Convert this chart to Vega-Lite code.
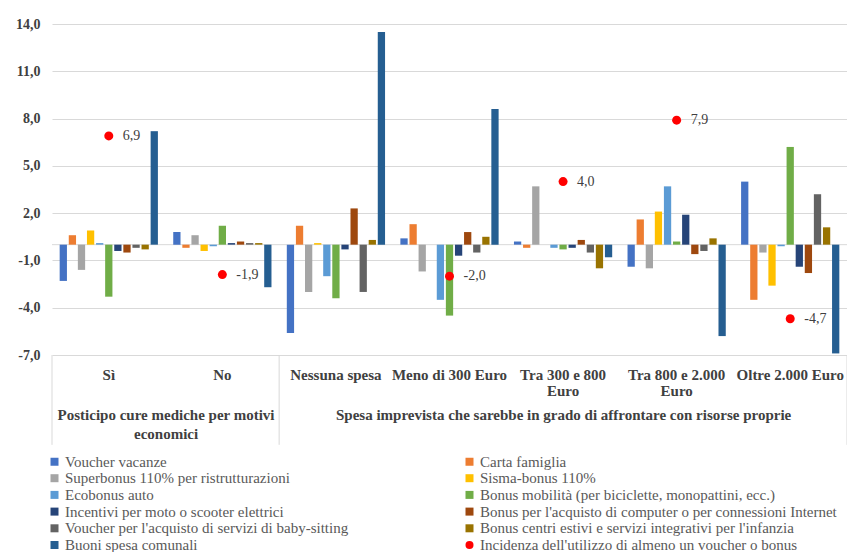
{
  "$schema": "https://vega.github.io/schema/vega-lite/v6.json",
  "width": 795,
  "height": 331,
  "autosize": {"type": "none"},
  "padding": {"left": 52, "top": 24, "right": 0, "bottom": 197},
  "background": "white",
  "config": {
    "locale": {
      "number": {"decimal": ",", "thousands": ".", "grouping": [3], "currency": ["€", ""], "minus": "-"}
    },
    "font": "Liberation Serif",
    "view": {"stroke": null},
    "axis": {"labelFont": "Liberation Serif"},
    "text": {"font": "Liberation Serif"},
    "legend": {
      "labelFont": "Liberation Serif",
      "padding": 0,
      "columns": 2,
      "columnPadding": 113,
      "rowPadding": 0.7,
      "labelFontSize": 15,
      "labelColor": "#595959",
      "labelLimit": 500,
      "labelOffset": 3,
      "symbolSize": 64,
      "symbolType": "square",
      "symbolStrokeWidth": 0,
      "symbolOpacity": 1
    }
  },
  "datasets": {
    "bars": [
      {"cat": "Sì", "series": "Voucher vacanze", "value": -2.3},
      {"cat": "Sì", "series": "Carta famiglia", "value": 0.6},
      {"cat": "Sì", "series": "Superbonus 110% per ristrutturazioni", "value": -1.6},
      {"cat": "Sì", "series": "Sisma-bonus 110%", "value": 0.9},
      {"cat": "Sì", "series": "Ecobonus auto", "value": 0.1},
      {"cat": "Sì", "series": "Bonus mobilità (per biciclette, monopattini, ecc.)", "value": -3.3},
      {"cat": "Sì", "series": "Incentivi per moto o scooter elettrici", "value": -0.4},
      {"cat": "Sì", "series": "Bonus per l'acquisto di computer o per connessioni Internet", "value": -0.5},
      {"cat": "Sì", "series": "Voucher per l'acquisto di servizi di baby-sitting", "value": -0.2},
      {"cat": "Sì", "series": "Bonus centri estivi e servizi integrativi per l'infanzia", "value": -0.3},
      {"cat": "Sì", "series": "Buoni spesa comunali", "value": 7.2},

      {"cat": "No", "series": "Voucher vacanze", "value": 0.8},
      {"cat": "No", "series": "Carta famiglia", "value": -0.2},
      {"cat": "No", "series": "Superbonus 110% per ristrutturazioni", "value": 0.6},
      {"cat": "No", "series": "Sisma-bonus 110%", "value": -0.4},
      {"cat": "No", "series": "Ecobonus auto", "value": -0.1},
      {"cat": "No", "series": "Bonus mobilità (per biciclette, monopattini, ecc.)", "value": 1.2},
      {"cat": "No", "series": "Incentivi per moto o scooter elettrici", "value": 0.1},
      {"cat": "No", "series": "Bonus per l'acquisto di computer o per connessioni Internet", "value": 0.2},
      {"cat": "No", "series": "Voucher per l'acquisto di servizi di baby-sitting", "value": 0.1},
      {"cat": "No", "series": "Bonus centri estivi e servizi integrativi per l'infanzia", "value": 0.1},
      {"cat": "No", "series": "Buoni spesa comunali", "value": -2.7},

      {"cat": "Nessuna spesa", "series": "Voucher vacanze", "value": -5.6},
      {"cat": "Nessuna spesa", "series": "Carta famiglia", "value": 1.2},
      {"cat": "Nessuna spesa", "series": "Superbonus 110% per ristrutturazioni", "value": -3.0},
      {"cat": "Nessuna spesa", "series": "Sisma-bonus 110%", "value": 0.1},
      {"cat": "Nessuna spesa", "series": "Ecobonus auto", "value": -2.0},
      {"cat": "Nessuna spesa", "series": "Bonus mobilità (per biciclette, monopattini, ecc.)", "value": -3.4},
      {"cat": "Nessuna spesa", "series": "Incentivi per moto o scooter elettrici", "value": -0.3},
      {"cat": "Nessuna spesa", "series": "Bonus per l'acquisto di computer o per connessioni Internet", "value": 2.3},
      {"cat": "Nessuna spesa", "series": "Voucher per l'acquisto di servizi di baby-sitting", "value": -3.0},
      {"cat": "Nessuna spesa", "series": "Bonus centri estivi e servizi integrativi per l'infanzia", "value": 0.3},
      {"cat": "Nessuna spesa", "series": "Buoni spesa comunali", "value": 13.5},

      {"cat": "Meno di 300 Euro", "series": "Voucher vacanze", "value": 0.4},
      {"cat": "Meno di 300 Euro", "series": "Carta famiglia", "value": 1.3},
      {"cat": "Meno di 300 Euro", "series": "Superbonus 110% per ristrutturazioni", "value": -1.7},
      {"cat": "Meno di 300 Euro", "series": "Sisma-bonus 110%", "value": 0.0},
      {"cat": "Meno di 300 Euro", "series": "Ecobonus auto", "value": -3.5},
      {"cat": "Meno di 300 Euro", "series": "Bonus mobilità (per biciclette, monopattini, ecc.)", "value": -4.5},
      {"cat": "Meno di 300 Euro", "series": "Incentivi per moto o scooter elettrici", "value": -0.7},
      {"cat": "Meno di 300 Euro", "series": "Bonus per l'acquisto di computer o per connessioni Internet", "value": 0.8},
      {"cat": "Meno di 300 Euro", "series": "Voucher per l'acquisto di servizi di baby-sitting", "value": -0.5},
      {"cat": "Meno di 300 Euro", "series": "Bonus centri estivi e servizi integrativi per l'infanzia", "value": 0.5},
      {"cat": "Meno di 300 Euro", "series": "Buoni spesa comunali", "value": 8.6},

      {"cat": "Tra 300 e 800 Euro", "series": "Voucher vacanze", "value": 0.2},
      {"cat": "Tra 300 e 800 Euro", "series": "Carta famiglia", "value": -0.2},
      {"cat": "Tra 300 e 800 Euro", "series": "Superbonus 110% per ristrutturazioni", "value": 3.7},
      {"cat": "Tra 300 e 800 Euro", "series": "Sisma-bonus 110%", "value": 0.0},
      {"cat": "Tra 300 e 800 Euro", "series": "Ecobonus auto", "value": -0.2},
      {"cat": "Tra 300 e 800 Euro", "series": "Bonus mobilità (per biciclette, monopattini, ecc.)", "value": -0.3},
      {"cat": "Tra 300 e 800 Euro", "series": "Incentivi per moto o scooter elettrici", "value": -0.2},
      {"cat": "Tra 300 e 800 Euro", "series": "Bonus per l'acquisto di computer o per connessioni Internet", "value": 0.3},
      {"cat": "Tra 300 e 800 Euro", "series": "Voucher per l'acquisto di servizi di baby-sitting", "value": -0.5},
      {"cat": "Tra 300 e 800 Euro", "series": "Bonus centri estivi e servizi integrativi per l'infanzia", "value": -1.5},
      {"cat": "Tra 300 e 800 Euro", "series": "Buoni spesa comunali", "value": -0.8},

      {"cat": "Tra 800 e 2.000 Euro", "series": "Voucher vacanze", "value": -1.4},
      {"cat": "Tra 800 e 2.000 Euro", "series": "Carta famiglia", "value": 1.6},
      {"cat": "Tra 800 e 2.000 Euro", "series": "Superbonus 110% per ristrutturazioni", "value": -1.5},
      {"cat": "Tra 800 e 2.000 Euro", "series": "Sisma-bonus 110%", "value": 2.1},
      {"cat": "Tra 800 e 2.000 Euro", "series": "Ecobonus auto", "value": 3.7},
      {"cat": "Tra 800 e 2.000 Euro", "series": "Bonus mobilità (per biciclette, monopattini, ecc.)", "value": 0.2},
      {"cat": "Tra 800 e 2.000 Euro", "series": "Incentivi per moto o scooter elettrici", "value": 1.9},
      {"cat": "Tra 800 e 2.000 Euro", "series": "Bonus per l'acquisto di computer o per connessioni Internet", "value": -0.6},
      {"cat": "Tra 800 e 2.000 Euro", "series": "Voucher per l'acquisto di servizi di baby-sitting", "value": -0.4},
      {"cat": "Tra 800 e 2.000 Euro", "series": "Bonus centri estivi e servizi integrativi per l'infanzia", "value": 0.4},
      {"cat": "Tra 800 e 2.000 Euro", "series": "Buoni spesa comunali", "value": -5.8},

      {"cat": "Oltre 2.000 Euro", "series": "Voucher vacanze", "value": 4.0},
      {"cat": "Oltre 2.000 Euro", "series": "Carta famiglia", "value": -3.5},
      {"cat": "Oltre 2.000 Euro", "series": "Superbonus 110% per ristrutturazioni", "value": -0.5},
      {"cat": "Oltre 2.000 Euro", "series": "Sisma-bonus 110%", "value": -2.6},
      {"cat": "Oltre 2.000 Euro", "series": "Ecobonus auto", "value": -0.1},
      {"cat": "Oltre 2.000 Euro", "series": "Bonus mobilità (per biciclette, monopattini, ecc.)", "value": 6.2},
      {"cat": "Oltre 2.000 Euro", "series": "Incentivi per moto o scooter elettrici", "value": -1.4},
      {"cat": "Oltre 2.000 Euro", "series": "Bonus per l'acquisto di computer o per connessioni Internet", "value": -1.8},
      {"cat": "Oltre 2.000 Euro", "series": "Voucher per l'acquisto di servizi di baby-sitting", "value": 3.2},
      {"cat": "Oltre 2.000 Euro", "series": "Bonus centri estivi e servizi integrativi per l'infanzia", "value": 1.1},
      {"cat": "Oltre 2.000 Euro", "series": "Buoni spesa comunali", "value": -6.9}
    ],
    "dots": [
      {"cat": "Sì", "series": "Incidenza dell'utilizzo di almeno un voucher o bonus", "value": 6.9},
      {"cat": "No", "series": "Incidenza dell'utilizzo di almeno un voucher o bonus", "value": -1.9},
      {"cat": "Meno di 300 Euro", "series": "Incidenza dell'utilizzo di almeno un voucher o bonus", "value": -2.0},
      {"cat": "Tra 300 e 800 Euro", "series": "Incidenza dell'utilizzo di almeno un voucher o bonus", "value": 4.0},
      {"cat": "Tra 800 e 2.000 Euro", "series": "Incidenza dell'utilizzo di almeno un voucher o bonus", "value": 7.9},
      {"cat": "Oltre 2.000 Euro", "series": "Incidenza dell'utilizzo di almeno un voucher o bonus", "value": -4.7}
    ],
    "groups": [
      {"edge": 0},
      {"edge": 2},
      {"edge": 7}
    ],
    "zero": [
      {"v": 0}
    ]
  },
  "layer": [
    {
      "data": {"name": "zero"},
      "mark": {"type": "rule", "color": "#d9d9d9", "strokeWidth": 1},
      "encoding": {
        "y": {"field": "v", "type": "quantitative"}
      }
    },
    {
      "encoding": {
        "x": {
          "field": "cat",
          "type": "nominal",
          "scale": {
            "domain": ["Sì", "No", "Nessuna spesa", "Meno di 300 Euro", "Tra 300 e 800 Euro", "Tra 800 e 2.000 Euro", "Oltre 2.000 Euro"],
            "paddingInner": 0.135,
            "paddingOuter": 0.0675
          },
          "axis": {
            "orient": "bottom",
            "title": null,
            "domain": false,
            "ticks": false,
            "tickSize": 0,
            "grid": false,
            "labelAngle": 0,
            "labelPadding": 12,
            "labelFont": "Liberation Serif",
            "labelFontSize": 15,
            "labelFontWeight": "bold",
            "labelColor": "#404040",
            "labelLineHeight": 16,
            "labelLimit": 300,
            "labelOverlap": false,
            "labelFlush": false,
            "labelExpr": "test(/^Tra /, datum.label) ? [replace(datum.label, ' Euro', ''), 'Euro'] : datum.label"
          }
        },
        "y": {
          "field": "value",
          "type": "quantitative",
          "scale": {"domain": [-7, 14], "nice": false, "zero": false},
          "axis": {
            "title": null,
            "values": [-7, -4, -1, 2, 5, 8, 11, 14],
            "format": ".1f",
            "domain": false,
            "ticks": false,
            "tickSize": 0,
            "grid": true,
            "gridColor": "#d9d9d9",
            "gridWidth": 1,
            "labelPadding": 12,
            "labelFont": "Liberation Serif",
            "labelFontSize": 14,
            "labelFontWeight": "bold",
            "labelColor": "#404040"
          }
        }
      },
      "layer": [
        {
          "data": {"name": "bars"},
          "mark": {"type": "bar"},
          "encoding": {
            "xOffset": {
              "field": "series",
              "type": "nominal",
              "scale": {
                "domain": [
                  "Voucher vacanze",
                  "Carta famiglia",
                  "Superbonus 110% per ristrutturazioni",
                  "Sisma-bonus 110%",
                  "Ecobonus auto",
                  "Bonus mobilità (per biciclette, monopattini, ecc.)",
                  "Incentivi per moto o scooter elettrici",
                  "Bonus per l'acquisto di computer o per connessioni Internet",
                  "Voucher per l'acquisto di servizi di baby-sitting",
                  "Bonus centri estivi e servizi integrativi per l'infanzia",
                  "Buoni spesa comunali"
                ],
                "paddingInner": 0.2,
                "paddingOuter": 0
              }
            },
            "color": {
              "field": "series",
              "type": "nominal",
              "scale": {
                "domain": [
                  "Voucher vacanze",
                  "Carta famiglia",
                  "Superbonus 110% per ristrutturazioni",
                  "Sisma-bonus 110%",
                  "Ecobonus auto",
                  "Bonus mobilità (per biciclette, monopattini, ecc.)",
                  "Incentivi per moto o scooter elettrici",
                  "Bonus per l'acquisto di computer o per connessioni Internet",
                  "Voucher per l'acquisto di servizi di baby-sitting",
                  "Bonus centri estivi e servizi integrativi per l'infanzia",
                  "Buoni spesa comunali",
                  "Incidenza dell'utilizzo di almeno un voucher o bonus"
                ],
                "range": ["#4472C4", "#ED7D31", "#A5A5A5", "#FFC000", "#5B9BD5", "#70AD47", "#264478", "#9E480E", "#636363", "#997300", "#255E91", "#FF0000"]
              },
              "legend": {
                "title": null,
                "orient": "none",
                "legendX": -5,
                "legendY": 430,
                "direction": "horizontal",
                "columns": 2,
                "labelFont": "Liberation Serif",
                "encode": {
                  "symbols": {
                    "update": {
                      "shape": {"signal": "test(/^Incidenza/, datum.value) ? 'circle' : 'square'"},
                      "opacity": {"value": 1}
                    }
                  }
                }
              }
            }
          }
        },
        {
          "data": {"name": "dots"},
          "mark": {"type": "point", "filled": true, "size": 81, "opacity": 1},
          "encoding": {
            "color": {"field": "series", "type": "nominal"}
          }
        },
        {
          "data": {"name": "dots"},
          "mark": {"type": "text", "align": "left", "baseline": "middle", "dx": 14, "font": "Liberation Serif", "fontSize": 14, "color": "#404040"},
          "encoding": {
            "text": {"field": "value", "type": "quantitative", "format": ".1f"}
          }
        }
      ]
    },
    {
      "data": {"name": "groups"},
      "mark": {"type": "rule", "color": "#d9d9d9", "strokeWidth": 1},
      "encoding": {
        "x": {
          "field": "edge",
          "type": "quantitative",
          "scale": {"domain": [0, 7], "nice": false, "zero": false},
          "axis": {
            "orient": "bottom",
            "title": null,
            "values": [1, 4.5],
            "domain": false,
            "ticks": false,
            "tickSize": 0,
            "grid": false,
            "labelPadding": 52,
            "labelFont": "Liberation Serif",
            "labelFontSize": 15,
            "labelFontWeight": "bold",
            "labelColor": "#404040",
            "labelLineHeight": 19,
            "labelLimit": 700,
            "labelOverlap": false,
            "labelFlush": false,
            "labelExpr": "datum.value === 1 ? ['Posticipo cure mediche per motivi', 'economici'] : 'Spesa imprevista che sarebbe in grado di affrontare con risorse proprie'"
          }
        },
        "y": {"datum": -7},
        "y2": {"datum": -12.7}
      }
    }
  ],
  "resolve": {
    "scale": {"x": "independent"},
    "axis": {"x": "independent"}
  }
}
